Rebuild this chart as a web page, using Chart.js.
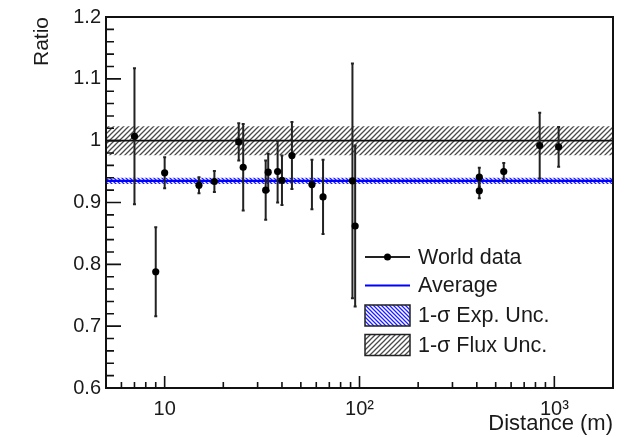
<!DOCTYPE html>
<html>
<head>
<meta charset="utf-8">
<script src="https://cdn.jsdelivr.net/npm/chart.js@4.4.0/dist/chart.umd.min.js"></script>
<style>
    html, body { margin: 0; padding: 0; background: #fff; }
    #wrap { width: 628px; height: 437px; }
</style>
</head>
<body>
<div id="wrap"><canvas id="ratioChart" width="628" height="437"></canvas></div>
<script>
// measured reactor points: distance (m), ratio, 1-sigma error
const distances = [7, 9, 10, 15, 18, 24, 25.3, 33, 34, 38, 40, 45, 57, 65, 92, 95, 412, 412, 550, 841, 1052];
const ratios = [1.007, 0.788, 0.948, 0.928, 0.934, 0.998, 0.957, 0.920, 0.949, 0.950, 0.936, 0.976, 0.929, 0.909, 0.935, 0.862, 0.941, 0.919, 0.950, 0.992, 0.990];
const ratioErrors = [0.110, 0.072, 0.025, 0.013, 0.017, 0.030, 0.070, 0.048, 0.030, 0.050, 0.040, 0.054, 0.040, 0.060, 0.190, 0.130, 0.015, 0.012, 0.014, 0.053, 0.032];

// horizontal bands
const bandX = [5, 2000];
const averageRatio = [0.935, 0.935];
const expUpper = [0.940, 0.940];
const expLower = [0.930, 0.930];
const fluxCentre = [1.0, 1.0];
const fluxUpper = [1.0235, 1.0235];
const fluxLower = [0.9765, 0.9765];

// axes
const yTicks = [0.6, 0.7, 0.8, 0.9, 1.0, 1.1, 1.2];
const xTicks = [10, 100, 1000];
const xTickLabels = ['10', '10²', '10³'];

Chart.defaults.font.family = "'Liberation Sans', Arial, sans-serif";
Chart.defaults.color = '#1a1a1a';

function hatch(color, size, rising, width) {
    const c = document.createElement('canvas');
    c.width = size;
    c.height = size;
    const g = c.getContext('2d');
    g.fillStyle = '#fff';
    g.fillRect(0, 0, size, size);
    g.strokeStyle = color;
    g.lineWidth = width;
    g.beginPath();
    for (let k = -1; k <= 1; k++) {
        if (rising) {
            g.moveTo(k * size - 1, size + 1);
            g.lineTo(k * size + size + 1, -1);
        } else {
            g.moveTo(k * size - 1, -1);
            g.lineTo(k * size + size + 1, size + 1);
        }
    }
    g.stroke();
    return g.createPattern(c, 'repeat');
}

const expPattern = hatch('#2020ff', 4, false, 1.3);
const fluxPattern = hatch('#4a4a4a', 5, true, 1.3);

const line = (ys) => bandX.map((x, i) => ({ x: x, y: ys[i] }));
const clear = 'rgba(0,0,0,0)';

const errorBars = {
    id: 'errorBars',
    beforeDatasetDraw(chart, args) {
        if (args.index !== 0) return;
        const { ctx, scales: { x, y } } = chart;
        ctx.save();
        ctx.strokeStyle = '#222';
        ctx.lineWidth = 2;
        distances.forEach((d, i) => {
            const px = x.getPixelForValue(d);
            const top = y.getPixelForValue(ratios[i] + ratioErrors[i]);
            const bot = y.getPixelForValue(ratios[i] - ratioErrors[i]);
            ctx.beginPath();
            ctx.moveTo(px, top);
            ctx.lineTo(px, bot);
            ctx.moveTo(px - 1.5, top);
            ctx.lineTo(px + 1.5, top);
            ctx.moveTo(px - 1.5, bot);
            ctx.lineTo(px + 1.5, bot);
            ctx.stroke();
        });
        ctx.restore();
    }
};

const frame = {
    id: 'frame',
    afterDraw(chart) {
        const { ctx, chartArea: a, scales: { x, y } } = chart;
        ctx.save();
        ctx.strokeStyle = '#111';
        ctx.lineWidth = 2;
        ctx.strokeRect(a.left, a.top, a.right - a.left, a.bottom - a.top);

        ctx.lineWidth = 1.6;
        ctx.beginPath();
        // y ticks, inward from the left axis
        for (let k = 0; k <= 30; k++) {
            const v = 0.6 + k * 0.02;
            const py = y.getPixelForValue(v);
            const len = k % 5 === 0 ? 15 : 8;
            ctx.moveTo(a.left, py);
            ctx.lineTo(a.left + len, py);
        }
        // x ticks, upward from the bottom axis
        for (let e = 0; e <= 3; e++) {
            for (let m = 1; m <= 9; m++) {
                const v = m * Math.pow(10, e);
                if (v < 5 || v > 2000) continue;
                const px = x.getPixelForValue(v);
                const len = m === 1 ? 12 : 6;
                ctx.moveTo(px, a.bottom);
                ctx.lineTo(px, a.bottom - len);
            }
        }
        ctx.stroke();
        ctx.restore();
    }
};

const boxLegend = {
    id: 'boxLegend',
    afterDraw(chart) {
        const ctx = chart.ctx;
        const items = chart.data.datasets.filter(ds => ds.legendType);
        const rows = [257, 285.5, 315.5, 345];
        const x0 = 365, x1 = 410, tx = 418;
        ctx.save();
        ctx.font = "21.5px 'Liberation Sans', Arial, sans-serif";
        ctx.textBaseline = 'middle';
        ctx.fillStyle = '#1a1a1a';
        items.forEach((ds, i) => {
            const yc = rows[i];
            if (ds.legendType === 'marker') {
                ctx.strokeStyle = '#222';
                ctx.lineWidth = 2;
                ctx.beginPath();
                ctx.moveTo(x0, yc);
                ctx.lineTo(x1, yc);
                ctx.stroke();
                ctx.fillStyle = '#000';
                ctx.beginPath();
                ctx.arc((x0 + x1) / 2, yc, 3.5, 0, Math.PI * 2);
                ctx.fill();
            } else if (ds.legendType === 'line') {
                ctx.strokeStyle = ds.borderColor;
                ctx.lineWidth = 2;
                ctx.beginPath();
                ctx.moveTo(x0, yc);
                ctx.lineTo(x1, yc);
                ctx.stroke();
            } else {
                ctx.fillStyle = ds.backgroundColor;
                ctx.fillRect(x0, yc - 10.5, x1 - x0, 21);
                ctx.strokeStyle = '#222';
                ctx.lineWidth = 1.5;
                ctx.strokeRect(x0, yc - 10.5, x1 - x0, 21);
            }
            ctx.fillStyle = '#1a1a1a';
            ctx.fillText(ds.label, tx, yc + 1);
        });
        ctx.restore();
    }
};

const ctx = document.getElementById('ratioChart').getContext('2d');
new Chart(ctx, {
    type: 'line',
    data: {
        datasets: [{
            label: 'World data',
            legendType: 'marker',
            type: 'scatter',
            data: distances.map((d, i) => ({ x: d, y: ratios[i] })),
            pointRadius: 3.6,
            pointBackgroundColor: '#000',
            pointBorderColor: '#000',
            pointBorderWidth: 0,
            showLine: false
        }, {
            label: 'Average',
            legendType: 'line',
            data: line(averageRatio),
            borderColor: '#0000ff',
            borderWidth: 2.2,
            pointRadius: 0,
            fill: false
        }, {
            label: 'Flux centre',
            data: line(fluxCentre),
            borderColor: '#111',
            borderWidth: 1.6,
            pointRadius: 0,
            fill: false
        }, {
            label: '1-σ Exp. Unc.',
            legendType: 'box',
            data: line(expUpper),
            borderColor: clear,
            backgroundColor: expPattern,
            pointRadius: 0,
            fill: '+1'
        }, {
            label: 'Exp lower',
            data: line(expLower),
            borderColor: clear,
            pointRadius: 0,
            fill: false
        }, {
            label: '1-σ Flux Unc.',
            legendType: 'box',
            data: line(fluxUpper),
            borderColor: clear,
            backgroundColor: fluxPattern,
            pointRadius: 0,
            fill: '+1'
        }, {
            label: 'Flux lower',
            data: line(fluxLower),
            borderColor: clear,
            pointRadius: 0,
            fill: false
        }]
    },
    options: {
        responsive: false,
        animation: false,
        layout: {
            padding: { left: 0, top: 17, right: 15, bottom: 0 }
        },
        plugins: {
            legend: { display: false },
            tooltip: { enabled: false }
        },
        scales: {
            x: {
                type: 'logarithmic',
                min: bandX[0],
                max: bandX[1],
                grid: { display: false, drawTicks: false },
                border: { display: false },
                afterBuildTicks: (s) => { s.ticks = xTicks.map(v => ({ value: v })); },
                afterFit: (s) => { s.height = 49; },
                ticks: {
                    autoSkip: false,
                    maxRotation: 0,
                    padding: 9,
                    font: { size: 20 },
                    callback: (v) => xTickLabels[xTicks.indexOf(v)]
                },
                title: {
                    display: true,
                    text: 'Distance (m)',
                    align: 'end',
                    font: { size: 22 },
                    padding: { top: 0, bottom: 0 }
                }
            },
            y: {
                min: 0.6,
                max: 1.2,
                grid: { display: false, drawTicks: false },
                border: { display: false },
                afterBuildTicks: (s) => { s.ticks = yTicks.map(v => ({ value: v })); },
                afterFit: (s) => { s.width = 106; },
                ticks: {
                    padding: 5,
                    font: { size: 20 },
                    callback: (v) => String(+v.toFixed(1))
                },
                title: {
                    display: true,
                    text: 'Ratio',
                    align: 'end',
                    font: { size: 21 },
                    padding: { top: 30, bottom: 0 }
                }
            }
        }
    },
    plugins: [errorBars, frame, boxLegend]
});
</script>
</body>
</html>
